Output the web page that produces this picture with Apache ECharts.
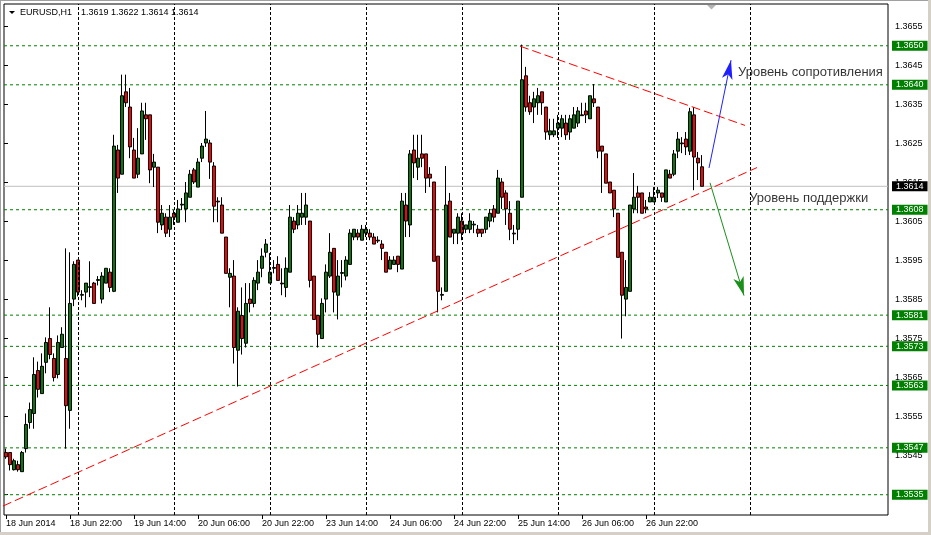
<!DOCTYPE html>
<html><head><meta charset="utf-8">
<script src="https://cdn.jsdelivr.net/npm/echarts@6/dist/echarts.min.js"></script>
<style>html,body{margin:0;padding:0;background:#fff}#c{width:931px;height:535px}</style>
</head><body><div id="c"></div>
<script>
// ---------------- data ----------------
const symbolName = 'EURUSD,H1';
const opens = [1.35458,1.35458,1.35414,1.35427,1.35409,1.35468,1.35535,1.35558,1.35668,1.35609,
1.35689,1.35750,1.35699,1.35658,1.35727,1.35699,1.35566,1.35851,1.35951,1.35861,
1.35869,1.35881,1.35892,1.35899,1.35851,1.35892,1.35920,1.35871,1.36233,1.36171,
1.36382,1.36343,1.36233,1.36171,1.36223,1.36323,1.36323,1.36189,1.36189,1.36041,
1.36061,1.36030,1.36071,1.36048,1.36092,1.36082,1.36112,1.36182,1.36138,1.36212,
1.36251,1.36251,1.36192,1.36102,1.36092,1.36010,1.35907,1.35910,1.35720,1.35809,
1.35738,1.35851,1.35840,1.35892,1.35930,1.35971,1.35892,1.35930,1.35940,1.35892,
1.35881,1.35920,1.36051,1.36041,1.36061,1.36061,1.36051,1.35910,1.35809,1.35750,
1.35851,1.35910,1.35981,1.35861,1.35917,1.35910,1.35940,1.36010,1.36020,1.36002,
1.36020,1.36020,1.36010,1.36002,1.35992,1.35971,1.35928,1.35940,1.35961,1.35928,
1.36092,1.36041,1.36233,1.36189,1.36223,1.36223,1.36171,1.36151,1.35961,1.35861,
1.35871,1.36102,1.36020,1.36020,1.36051,1.36030,1.36030,1.36041,1.36030,1.36030,
1.36030,1.36051,1.36082,1.36071,1.36151,1.36123,1.36071,1.36020,1.36030,1.36112,
1.36423,1.36354,1.36343,1.36354,1.36382,1.36343,1.36272,1.36272,1.36289,1.36289,
1.36302,1.36279,1.36289,1.36302,1.36323,1.36333,1.36313,1.36364,1.36343,1.36243,
1.36223,1.36151,1.36130,1.36071,1.35971,1.35851,1.35871,1.36082,1.36123,1.36123,
1.36087,1.36100,1.36100,1.36123,1.36123,1.36100,1.36171,1.36171,1.36230,1.36251,
1.36261,1.36230,1.36323,1.36212,1.3619];
const highs = [1.35468,1.35458,1.35442,1.35437,1.35462,1.35558,1.35586,1.35702,1.35691,1.35712,
1.35753,1.35830,1.35712,1.35758,1.35779,1.35981,1.35971,1.35948,1.35951,1.35874,
1.35892,1.35948,1.35895,1.35910,1.35920,1.35930,1.35930,1.36272,1.36246,1.36426,
1.36426,1.36392,1.36264,1.36289,1.36354,1.36354,1.36323,1.36223,1.36189,1.36092,
1.36071,1.36092,1.36079,1.36105,1.36110,1.36151,1.36182,1.36187,1.36212,1.36251,
1.36333,1.36259,1.36202,1.36112,1.36112,1.36010,1.35930,1.35951,1.35830,1.35881,
1.35892,1.35892,1.35907,1.35951,1.35981,1.36005,1.35969,1.35951,1.35961,1.35930,
1.35958,1.36092,1.36061,1.36092,1.36123,1.36123,1.36051,1.35910,1.35809,1.35853,
1.35940,1.36020,1.35981,1.35951,1.35951,1.35961,1.36030,1.36030,1.36030,1.36041,
1.36041,1.36030,1.36020,1.36012,1.36002,1.35971,1.35961,1.35961,1.35961,1.36123,
1.36123,1.36233,1.36272,1.36272,1.36272,1.36223,1.36189,1.36151,1.35961,1.35881,
1.36192,1.36123,1.36030,1.36071,1.36071,1.36041,1.36071,1.36051,1.36041,1.36030,
1.36061,1.36082,1.36092,1.36182,1.36161,1.36130,1.36102,1.36041,1.36102,1.36503,
1.36446,1.36372,1.36382,1.36392,1.36382,1.36343,1.36313,1.36313,1.36323,1.36323,
1.36323,1.36323,1.36343,1.36343,1.36354,1.36354,1.36372,1.36402,1.36343,1.36243,
1.36223,1.36151,1.36130,1.36071,1.35971,1.35951,1.36092,1.36174,1.36141,1.36123,
1.36105,1.36125,1.36138,1.36138,1.36123,1.36182,1.36182,1.36233,1.36279,1.36266,
1.36279,1.36341,1.36343,1.36228,1.3622];
const lows = [1.35442,1.35412,1.35412,1.35409,1.35409,1.35458,1.35519,1.35519,1.35599,1.35609,
1.35661,1.35697,1.35640,1.35648,1.35727,1.35468,1.35519,1.35833,1.35858,1.35848,
1.35830,1.35856,1.35840,1.35886,1.35840,1.35892,1.35869,1.35869,1.36123,1.36171,
1.36343,1.36212,1.36161,1.36161,1.36223,1.36259,1.36148,1.36138,1.36020,1.36028,
1.36010,1.36010,1.36041,1.36048,1.36079,1.36048,1.36112,1.36146,1.36138,1.36202,
1.36241,1.36159,1.36048,1.36048,1.36020,1.35917,1.35830,1.35686,1.35627,1.35709,
1.35727,1.35817,1.35830,1.35874,1.35907,1.35958,1.35892,1.35917,1.35899,1.35861,
1.35856,1.35920,1.36020,1.36030,1.36041,1.36041,1.35881,1.35799,1.35727,1.35750,
1.35817,1.35905,1.35817,1.35799,1.35881,1.35899,1.35940,1.36002,1.36002,1.36002,
1.36010,1.36002,1.35992,1.35995,1.35951,1.35920,1.35928,1.35940,1.35920,1.35928,
1.36010,1.36010,1.36161,1.36156,1.36189,1.36123,1.36138,1.35948,1.35817,1.35848,
1.35871,1.36010,1.35992,1.35992,1.36002,1.36020,1.36020,1.36020,1.36010,1.36010,
1.36020,1.36035,1.36048,1.36071,1.36082,1.36041,1.36002,1.35992,1.36002,1.36112,
1.36331,1.36323,1.36302,1.36323,1.36323,1.36259,1.36259,1.36266,1.36264,1.36266,
1.36259,1.36259,1.36289,1.36292,1.36321,1.36302,1.36313,1.36343,1.36212,1.36123,
1.36148,1.36123,1.36061,1.35958,1.35750,1.35807,1.35871,1.36071,1.36071,1.36071,
1.36071,1.36100,1.36100,1.36110,1.36100,1.36100,1.36161,1.36166,1.36212,1.36225,
1.36220,1.36220,1.36130,1.36156,1.3614];
const closes = [1.35447,1.35427,1.35437,1.35414,1.35458,1.35530,1.35568,1.35658,1.35620,1.35679,
1.35740,1.35709,1.35650,1.35740,1.35761,1.35578,1.35840,1.35940,1.35869,1.35863,
1.35892,1.35883,1.35840,1.35901,1.35910,1.35930,1.35881,1.36243,1.36161,1.36372,
1.36354,1.36241,1.36161,1.36212,1.36333,1.36313,1.36182,1.36202,1.36048,1.36071,
1.36020,1.36061,1.36061,1.36082,1.36094,1.36123,1.36171,1.36151,1.36202,1.36243,
1.36261,1.36202,1.36089,1.36100,1.36020,1.35917,1.35917,1.35727,1.35820,1.35750,
1.35840,1.35840,1.35899,1.35920,1.35961,1.35992,1.35920,1.35932,1.35899,1.35890,
1.35930,1.36061,1.36030,1.36071,1.36071,1.36092,1.35899,1.35799,1.35761,1.35840,
1.35920,1.35971,1.35869,1.35910,1.35919,1.35951,1.36020,1.36030,1.36010,1.36030,
1.36030,1.36010,1.35992,1.36000,1.35981,1.35920,1.35951,1.35951,1.35940,1.36102,
1.36051,1.36223,1.36200,1.36212,1.36212,1.36161,1.36161,1.35948,1.35871,1.35863,
1.36092,1.36010,1.36030,1.36061,1.36020,1.36041,1.36051,1.36043,1.36020,1.36020,
1.36061,1.36071,1.36061,1.36161,1.36112,1.36082,1.36030,1.36018,1.36102,1.36413,
1.36343,1.36331,1.36364,1.36372,1.36354,1.36279,1.36282,1.36282,1.36302,1.36313,
1.36272,1.36313,1.36323,1.36333,1.36321,1.36323,1.36372,1.36354,1.36230,1.36230,
1.36148,1.36123,1.36082,1.35958,1.35861,1.35881,1.36092,1.36112,1.36112,1.36071,
1.36082,1.36112,1.36112,1.36130,1.36112,1.36182,1.36161,1.36223,1.36261,1.36249,
1.36241,1.36331,1.36215,1.36200,1.3614];

const totalSlots = 221;                       // bars + empty right-hand shift area
const startTimeUTC = Date.UTC(2014, 5, 18, 6); // first bar: 18 Jun 2014 06:00
const xTickEvery = 16;
const xTickLabels = ['18 Jun 2014','18 Jun 22:00','19 Jun 14:00','20 Jun 06:00','20 Jun 22:00',
  '23 Jun 14:00','24 Jun 06:00','24 Jun 22:00','25 Jun 14:00','26 Jun 06:00','26 Jun 22:00'];
const daySeparators = [18, 42, 66, 90, 114, 138, 162, 186];

const yMin = 1.35298, yMax = 1.36607;
const yLabelMin = 1.3535, yLabelMax = 1.3655, yLabelStep = 0.0010;
const levelLines = [1.3650, 1.3640, 1.3608, 1.3581, 1.3573, 1.3563, 1.3547, 1.3535];
const bidPrice = 1.3614;

const supportLine = [[-0.75, 1.35321], [187.75, 1.36188]];
const resistanceLine = [[128.5, 1.36499], [184.75, 1.36296]];
const upArrow = [[175.75, 1.36187], [181.25, 1.36463]];
const downArrow = [[176, 1.36149], [184.5, 1.35860]];
const annotationTexts = ['Уровень сопротивления', 'Уровень поддержки'];
const annotationPoints = [[183, 1.36433], [185.8, 1.36109]];

// ---------------- build ----------------
const MONTHS = ['Jan','Feb','Mar','Apr','May','Jun','Jul','Aug','Sep','Oct','Nov','Dec'];
const categories = [];
for (let t = startTimeUTC; categories.length < totalSlots; t += 3600000) {
  const d = new Date(t), wd = d.getUTCDay();
  if (wd === 0 || wd === 6) continue;
  categories.push(d.getUTCDate() + ' ' + MONTHS[d.getUTCMonth()] + ' ' +
    String(d.getUTCHours()).padStart(2, '0') + ':00');
}
const nBars = opens.length;
const candles = opens.map((o, i) => [o, closes[i], lows[i], highs[i]]);

const FONT = 'Liberation Sans, Arial, sans-serif';
const G = { left: 4, top: 4, width: totalSlots * 4, height: 511 };
const ppu = G.height / (yMax - yMin);
const G2 = { left: G.left, width: G.width, top: G.top + (yMax - yLabelMax) * ppu,
  height: (yLabelMax - yLabelMin) * ppu };
const xL = -0.5, xR = totalSlots - 0.5;

function hLine(v, color, type, boxColor, z) {
  return {
    type: 'line', xAxisIndex: 1, yAxisIndex: 0, silent: true, z: z, symbol: 'none',
    data: [[xL, v], [xR, v]],
    lineStyle: { color: color, width: 1, type: type },
    endLabel: { show: true, distance: 4, formatter: () => v.toFixed(4),
      color: '#fff', backgroundColor: boxColor, padding: [1, 4, 0, 4],
      fontSize: 9, fontFamily: FONT }
  };
}
function arrowSeries(name, pts, color) {
  return { type: 'line', name: name, xAxisIndex: 1, yAxisIndex: 0, data: [], z: 4,
    markLine: { silent: true, symbol: ['none', 'arrow'], label: { show: false },
      lineStyle: { color: color, width: 1, type: 'solid' },
      data: [[{ coord: pts[0], symbol: 'none', symbolSize: 1 },
              { coord: pts[1], symbol: 'arrow', symbolSize: [8, 19] }]] } };
}

const last = nBars - 1;
const headerPrices = [opens[last], highs[last], lows[last], closes[last]].map(v => v.toFixed(4)).join(' ');

const series = [];
levelLines.forEach(v => series.push(hLine(v, '#008000', [3, 3], '#008000', 1)));
series.push(hLine(bidPrice, '#c0c0c0', 'solid', '#000', 1));
series.push(
  { type: 'line', name: 'separators', xAxisIndex: 1, yAxisIndex: 0, data: [], silent: true, z: 1,
    markLine: { silent: true, symbol: 'none', animation: false, label: { show: false },
      lineStyle: { color: '#000', type: [3, 2], width: 1 },
      data: daySeparators.map(i => ({ xAxis: i })) } },
  { type: 'candlestick', name: symbolName, xAxisIndex: 0, yAxisIndex: 0, data: candles,
    barWidth: 3, z: 3,
    itemStyle: { color: '#008000', color0: '#ff0000', borderColor: '#000', borderColor0: '#000', borderWidth: 1 } },
  { type: 'line', name: 'support', xAxisIndex: 1, yAxisIndex: 0, data: supportLine, z: 4, silent: true,
    symbol: 'none', lineStyle: { color: '#ff0000', width: 1, type: [9, 4] } },
  { type: 'line', name: 'resistance', xAxisIndex: 1, yAxisIndex: 0, data: resistanceLine, z: 4, silent: true,
    symbol: 'none', lineStyle: { color: '#ff0000', width: 1, type: [9, 4] } },
  arrowSeries('upArrow', upArrow, '#2020ff'),
  arrowSeries('downArrow', downArrow, '#1a8f1a'),
  { type: 'scatter', name: 'notes', xAxisIndex: 1, yAxisIndex: 0, z: 5, symbolSize: 0, silent: true,
    data: annotationTexts.map((t, i) => ({ value: annotationPoints[i], name: t })),
    label: { show: true, position: 'right', distance: 0, formatter: p => p.name,
      fontSize: 13, fontFamily: FONT, color: '#000' } }
);

const chart = echarts.init(document.getElementById('c'), null, { renderer: 'canvas' });
chart.setOption({
  animation: false,
  backgroundColor: '#fff',
  grid: [
    Object.assign({ show: true, borderColor: '#000', borderWidth: 1, backgroundColor: '#fff' }, G),
    Object.assign({ show: false }, G2)
  ],
  xAxis: [
    { type: 'category', gridIndex: 0, data: categories, boundaryGap: true,
      axisLine: { show: false },
      axisTick: { show: true, alignWithLabel: true, length: 4,
        interval: (i) => i % xTickEvery === 0 && i < nBars, lineStyle: { color: '#000' } },
      axisLabel: { show: true, interval: (i) => i % xTickEvery === 0 && i < nBars,
        formatter: (v, i) => xTickLabels[i / xTickEvery] || '',
        align: 'left', margin: 4, fontSize: 9, fontFamily: FONT, color: '#000' },
      splitLine: { show: false } },
    { type: 'value', gridIndex: 0, min: xL, max: xR, show: false },
    { type: 'value', gridIndex: 1, min: 0, max: 1, show: false }
  ],
  yAxis: [
    { type: 'value', gridIndex: 0, min: yMin, max: yMax, position: 'right', scale: true,
      axisLine: { show: false }, axisTick: { show: false }, axisLabel: { show: false },
      splitLine: { show: false } },
    { type: 'value', gridIndex: 1, min: yLabelMin, max: yLabelMax, interval: yLabelStep,
      position: 'right', axisLine: { show: false },
      axisTick: { show: true, length: 4, lineStyle: { color: '#000' } },
      axisLabel: { show: true, margin: 7, fontSize: 9, fontFamily: FONT, color: '#000',
        formatter: v => v.toFixed(4) },
      splitLine: { show: false } }
  ],
  series: series,
  graphic: [
    { type: 'rect', shape: { x: 0, y: 0, width: 931, height: 1 }, style: { fill: '#a0a0a0' }, z: 0 },
    { type: 'rect', shape: { x: 0, y: 0, width: 1, height: 535 }, style: { fill: '#a0a0a0' }, z: 0 },
    { type: 'rect', shape: { x: 928, y: 0, width: 3, height: 535 }, style: { fill: '#d4d0c8' }, z: 0 },
    { type: 'rect', shape: { x: 0, y: 532, width: 931, height: 3 }, style: { fill: '#d4d0c8' }, z: 0 },
    { type: 'polygon', shape: { points: [[9, 11], [15, 11], [12, 14]] }, style: { fill: '#000' }, z: 10 },
    { type: 'text', left: 20, top: 8, z: 10,
      style: { text: symbolName, font: '9px ' + FONT, fill: '#000' } },
    { type: 'text', left: 81, top: 8, z: 10,
      style: { text: headerPrices, font: '9px ' + FONT, fill: '#000' } },
    { type: 'polygon', shape: { points: [[707, 5], [716, 5], [711.5, 9.5]] }, style: { fill: '#b4b4b4' }, z: 10 }
  ]
});
</script></body></html>
